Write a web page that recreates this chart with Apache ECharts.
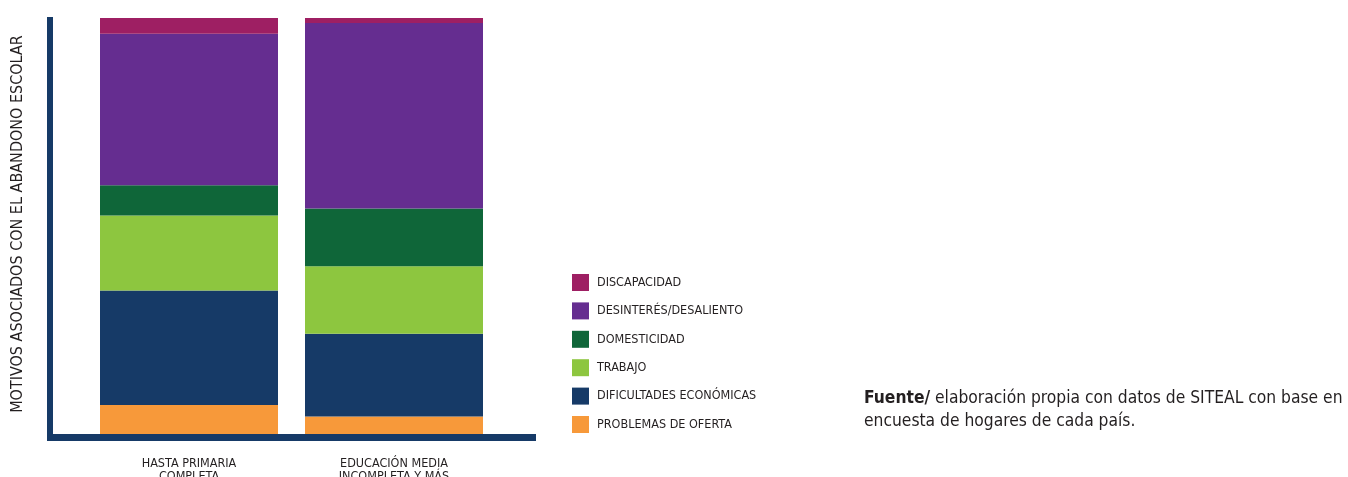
<!DOCTYPE html>
<html>
<head>
<meta charset="utf-8">
<script src="https://cdn.jsdelivr.net/npm/echarts@6/dist/echarts.min.js"></script>
<style>
  html, body { margin: 0; padding: 0; background: #ffffff; }
  #chart { width: 1348px; height: 477px; }
</style>
</head>
<body>
<div id="chart"></div>
<script>
// Education levels (x categories)
const categories = ['HASTA PRIMARIA\nCOMPLETA', 'EDUCACIÓN MEDIA\nINCOMPLETA Y MÁS'];

// Share of each reason for school dropout (%), per education level
const problemasOferta        = [7.0, 4.2];
const dificultadesEconomicas = [27.5, 19.9];
const trabajo                = [18.0, 16.2];
const domesticidad           = [7.3, 13.9];
const desinteres             = [36.4, 44.6];
const discapacidad           = [3.8, 1.2];

const FONT = '"Liberation Sans Narrow", "DejaVu Sans Condensed", "Roboto", sans-serif';
const TEXT = '#231f20';
const AXIS = '#163a67';

const seriesDefs = [
  { name: 'PROBLEMAS DE OFERTA', data: problemasOferta, color: '#f7993a' },
  { name: 'DIFICULTADES ECONÓMICAS', data: dificultadesEconomicas, color: '#163a67' },
  { name: 'TRABAJO', data: trabajo, color: '#8dc63f' },
  { name: 'DOMESTICIDAD', data: domesticidad, color: '#0f6639' },
  { name: 'DESINTERÉS/DESALIENTO', data: desinteres, color: '#652d90' },
  { name: 'DISCAPACIDAD', data: discapacidad, color: '#9e1f63' }
];

const chart = echarts.init(document.getElementById('chart'), null, { renderer: 'canvas' });

chart.setOption({
  backgroundColor: '#ffffff',
  animation: false,
  textStyle: { fontFamily: FONT },
  grid: {
    left: 86.5, right: 851.5, top: 18, bottom: 43,
    containLabel: false,
    outerBoundsMode: 'none'
  },
  xAxis: {
    type: 'category',
    data: categories,
    axisLine: { show: false },
    axisTick: { show: false },
    axisLabel: {
      margin: 23,
      fontFamily: FONT,
      fontSize: 12.5,
      lineHeight: 13,
      color: TEXT,
      interval: 0
    }
  },
  yAxis: {
    type: 'value',
    min: 0,
    max: 100,
    axisLine: { show: false },
    axisTick: { show: false },
    axisLabel: { show: false },
    splitLine: { show: false }
  },
  legend: {
    orient: 'vertical',
    left: 572,
    top: 274,
    padding: 0,
    itemWidth: 17,
    itemHeight: 17,
    itemGap: 11.4,
    icon: 'rect',
    textStyle: { fontFamily: FONT, fontSize: 12.5, color: TEXT, padding: [0, 0, 0, 3] },
    data: ['DISCAPACIDAD', 'DESINTERÉS/DESALIENTO', 'DOMESTICIDAD', 'TRABAJO',
           'DIFICULTADES ECONÓMICAS', 'PROBLEMAS DE OFERTA']
  },
  series: seriesDefs.map(s => ({
    type: 'bar',
    name: s.name,
    stack: 'total',
    data: s.data,
    barWidth: 178,
    itemStyle: { color: s.color },
    emphasis: { disabled: true }
  })),
  graphic: [
    // vertical axis bar
    { type: 'rect', shape: { x: 47, y: 17, width: 6, height: 424 }, style: { fill: AXIS }, z: 10 },
    // horizontal axis bar
    { type: 'rect', shape: { x: 47, y: 434, width: 489, height: 7 }, style: { fill: AXIS }, z: 10 },
    // axis title
    {
      type: 'text',
      x: 18, y: 224,
      rotation: Math.PI / 2,
      style: {
        text: 'MOTIVOS ASOCIADOS CON EL ABANDONO ESCOLAR',
        font: '16px ' + FONT,
        fill: TEXT,
        align: 'center',
        verticalAlign: 'middle'
      }
    },
    // source note
    {
      type: 'text',
      x: 864, y: 387,
      style: {
        text: '{b|Fuente/} elaboración propia con datos de SITEAL con base en\nencuesta de hogares de cada país.',
        font: '17.3px ' + FONT,
        fill: TEXT,
        lineHeight: 23,
        rich: {
          b: { font: 'bold 17.3px ' + FONT, fill: TEXT, lineHeight: 23 }
        }
      }
    }
  ]
});
</script>
</body>
</html>
